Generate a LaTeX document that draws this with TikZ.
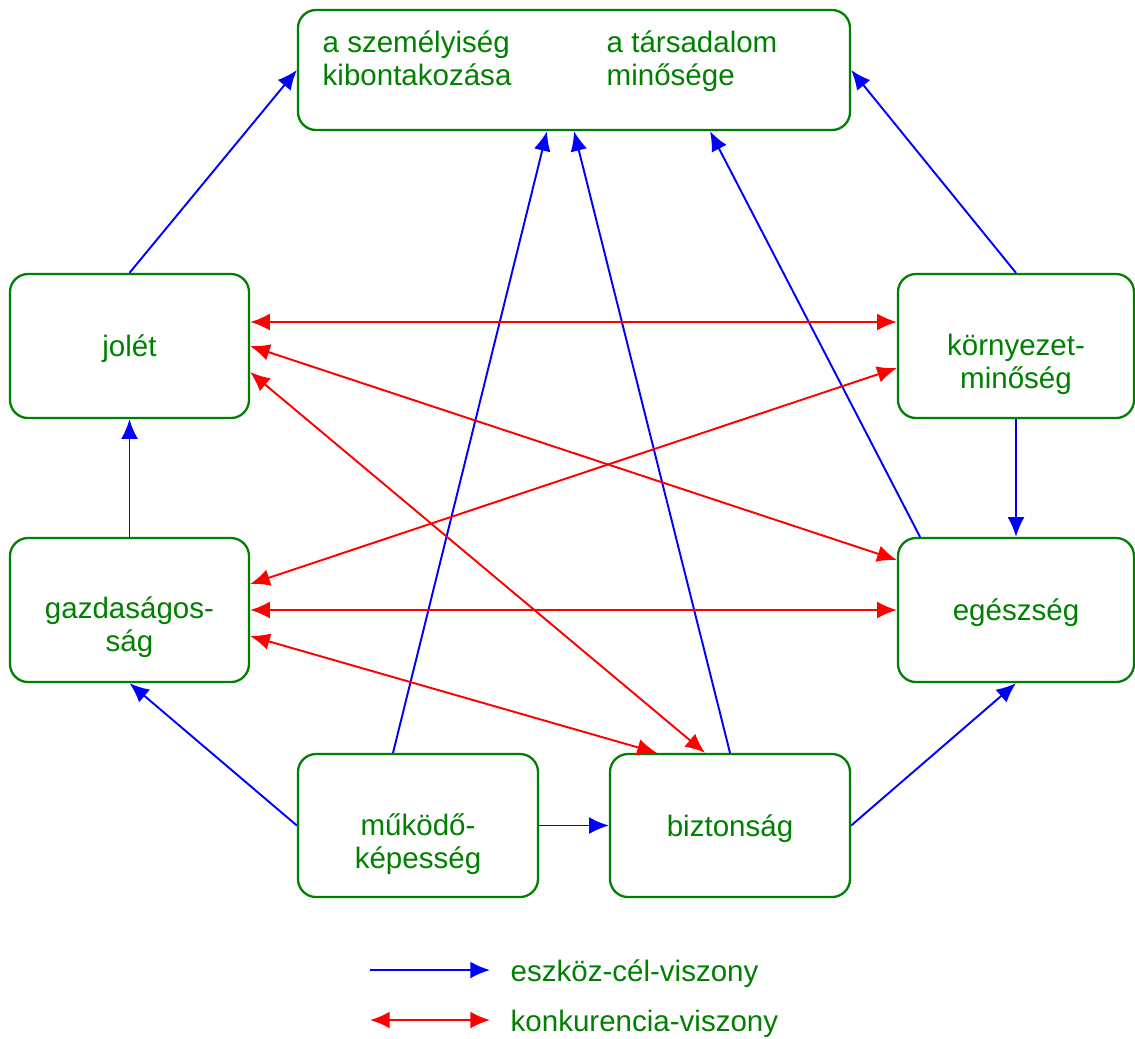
\documentclass[tikz,border=0pt]{standalone}
\usepackage{fontspec}
\setmainfont{Liberation Sans}
\usetikzlibrary{arrows.meta}

\definecolor{zold}{RGB}{0,128,0}
\tikzset{
  blok/.style={draw=zold, line width=0.65pt, rounded corners=0.18cm, inner sep=0pt},
  felirat/.style={text=zold, align=left, inner sep=0pt},
  szoveg/.style={text=zold, align=center, inner sep=0pt},
  eszkoz/.style={blue, line width=0.55pt, -{Latex[length=5.6pt,width=4.8pt]}},
  konk/.style={red, line width=0.55pt, {Latex[length=5.6pt,width=4.8pt]}-{Latex[length=5.6pt,width=4.8pt]}}
}

\begin{document}
\begin{tikzpicture}[font=\fontsize{8.4}{9.4}\selectfont]
\useasboundingbox (0,0) rectangle (11.35,-10.38);

% dobozok
\node[blok, minimum width=5.52cm, minimum height=1.20cm] (top) at (5.74,-0.70) {};
\node[felirat, anchor=north west] (szem) at (3.22,-0.30) {a személyiség\\kibontakozása};
\node[felirat, anchor=north west] (tars) at (6.06,-0.30) {a társadalom\\minősége};

\node[blok, minimum width=2.39cm, minimum height=1.44cm] (jol) at (1.295,-3.46) {};
\node[blok, minimum width=2.36cm, minimum height=1.44cm] (korny) at (10.16,-3.46) {};
\node[blok, minimum width=2.39cm, minimum height=1.44cm] (gazd) at (1.295,-6.10) {};
\node[blok, minimum width=2.36cm, minimum height=1.44cm] (eg) at (10.16,-6.10) {};
\node[blok, minimum width=2.40cm, minimum height=1.43cm] (mukodo) at (4.18,-8.255) {};
\node[blok, minimum width=2.40cm, minimum height=1.43cm] (bizt) at (7.30,-8.255) {};

\node[szoveg] (joltxt) at ([yshift=-0.025cm]jol.center) {jolét};
\node[szoveg] (kornytxt) at ([yshift=-0.18cm]korny.center) {környezet-\\minőség};
\node[szoveg] (gazdtxt) at ([yshift=-0.17cm]gazd.center) {gazdaságos-\\ság};
\node[szoveg] (egtxt) at ([yshift=-0.025cm]eg.center) {egészség};
\node[szoveg] (mukodotxt) at ([yshift=-0.19cm]mukodo.center) {működő-\\képesség};
\node[szoveg] (bizttxt) at ([yshift=-0.03cm]bizt.center) {biztonság};

% eszkoz-cel
\draw[eszkoz] (jol.north) -- (top.west);
\draw[eszkoz] (korny.north) -- (top.east);
\draw[eszkoz] ([xshift=-0.25cm]mukodo.north) -- ([xshift=-0.27cm]top.south);
\draw[eszkoz] (bizt.north) -- (top.south);
\draw[eszkoz] ([xshift=-0.96cm]eg.north) -- ([xshift=1.36cm]top.south);
\draw[eszkoz] (gazd.north) -- (jol.south);
\draw[eszkoz] (korny.south) -- (eg.north);
\draw[eszkoz] (mukodo.west) -- (gazd.south);
\draw[eszkoz] (mukodo.east) -- (bizt.west);
\draw[eszkoz] (bizt.east) -- (eg.south);

% konkurencia
\draw[konk] ([yshift=0.24cm]jol.east) -- ([yshift=0.24cm]korny.west);
\draw[konk] (jol.east) -- ([yshift=0.50cm]eg.west);
\draw[konk] ([yshift=-0.26cm]jol.east) -- ([xshift=-0.25cm]bizt.north);
\draw[konk] ([yshift=-0.22cm]korny.west) -- ([yshift=0.26cm]gazd.east);
\draw[konk] (gazd.east) -- (eg.west);
\draw[konk] ([yshift=-0.26cm]gazd.east) -- ([xshift=-0.73cm]bizt.north);

% jelmagyarazat
\coordinate (l1a) at (3.70,-9.70);
\coordinate (l1b) at (4.90,-9.70);
\coordinate (l2a) at (3.70,-10.20);
\coordinate (l2b) at (4.90,-10.20);
\draw[eszkoz] (l1a) -- (l1b);
\draw[konk] (l2a) -- (l2b);
\node[felirat, anchor=west] (lfel1) at (5.10,-9.74) {eszköz-cél-viszony};
\node[felirat, anchor=west] (lfel2) at (5.10,-10.24) {konkurencia-viszony};
\end{tikzpicture}
\end{document}
